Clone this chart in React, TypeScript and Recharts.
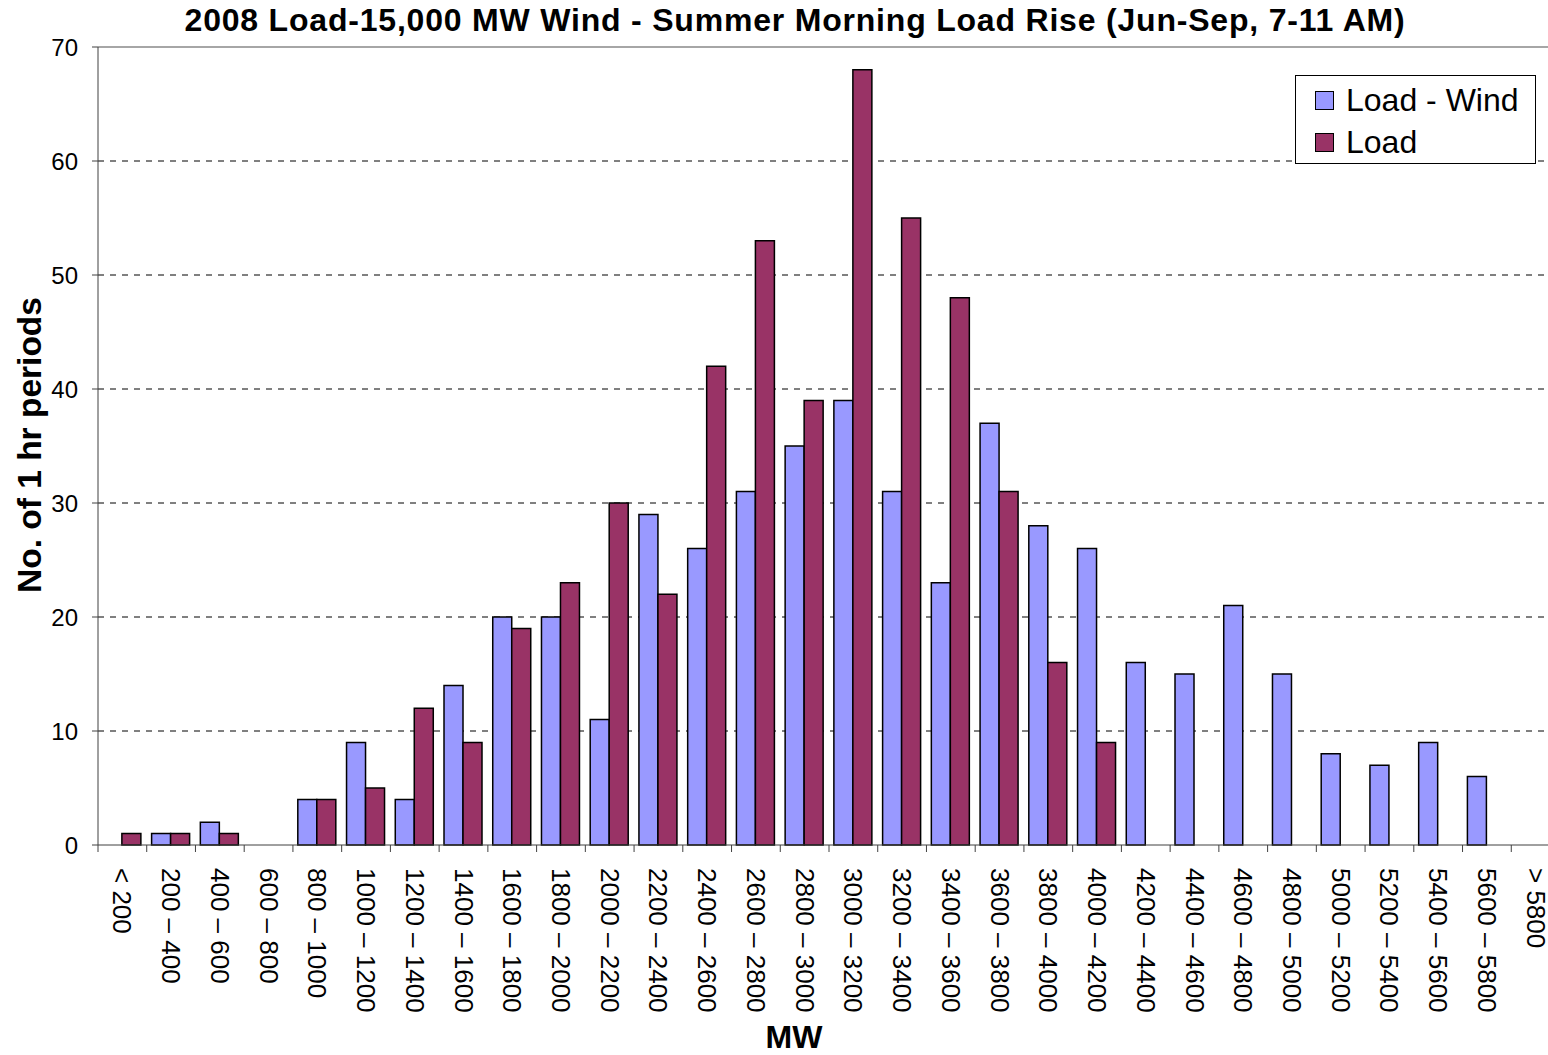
import { BarChart, Bar, XAxis, YAxis, CartesianGrid, ReferenceLine } from "recharts";

const categories = [
  "< 200", "200 – 400", "400 – 600", "600 – 800", "800 – 1000", "1000 – 1200",
  "1200 – 1400", "1400 – 1600", "1600 – 1800", "1800 – 2000", "2000 – 2200",
  "2200 – 2400", "2400 – 2600", "2600 – 2800", "2800 – 3000", "3000 – 3200",
  "3200 – 3400", "3400 – 3600", "3600 – 3800", "3800 – 4000", "4000 – 4200",
  "4200 – 4400", "4400 – 4600", "4600 – 4800", "4800 – 5000", "5000 – 5200",
  "5200 – 5400", "5400 – 5600", "5600 – 5800", "> 5800",
];
const loadMinusWind = [
  0, 1, 2, 0, 4, 9, 4, 14, 20, 20, 11, 29, 26, 31, 35, 39, 31, 23, 37, 28, 26,
  16, 15, 21, 15, 8, 7, 9, 6, 0,
];
const load = [
  1, 1, 1, 0, 4, 5, 12, 9, 19, 23, 30, 22, 42, 53, 39, 68, 55, 48, 31, 16, 9,
  0, 0, 0, 0, 0, 0, 0, 0, 0,
];
const yTicks = [0, 10, 20, 30, 40, 50, 60, 70];

const data = categories.map((c, i) => ({ range: c, lw: loadMinusWind[i], load: load[i] }));

const FONT = '"Liberation Sans", Arial, sans-serif';
const CHART_W = 1560;
const CHART_H = 1055;
const PLOT_LEFT = 98;
const BAND = (CHART_W - PLOT_LEFT) / categories.length;

// eslint-disable-next-line @typescript-eslint/no-explicit-any
function RangeTick(props: any) {
  const { x, y, payload } = props;
  const lx = x - BAND / 2;
  return (
    <g>
      <line x1={lx} y1={y} x2={lx} y2={y + 7} stroke="#404040" strokeWidth={1} />
      <text
        x={x}
        y={y + 23}
        transform={`rotate(90, ${x}, ${y + 23})`}
        textAnchor="start"
        dominantBaseline="central"
        fontSize={26}
        fontFamily={FONT}
        fill="#000"
      >
        {payload.value}
      </text>
    </g>
  );
}

function LegendBox() {
  const items = [
    { name: "Load - Wind", color: "#9999FF" },
    { name: "Load", color: "#993366" },
  ];
  return (
    <div
      style={{
        position: "absolute",
        left: 1295,
        top: 75,
        width: 241,
        height: 89,
        border: "1px solid #000",
        background: "#fff",
        boxSizing: "border-box",
        fontFamily: FONT,
        fontSize: 32,
        paddingTop: 3,
      }}
    >
      {items.map((it) => (
        <div key={it.name} style={{ display: "flex", alignItems: "center", height: 42, paddingLeft: 19 }}>
          <span
            style={{
              display: "inline-block",
              width: 17,
              height: 17,
              background: it.color,
              border: "1.5px solid #000",
              marginRight: 12,
            }}
          />
          <span>{it.name}</span>
        </div>
      ))}
    </div>
  );
}

export default function App() {
  return (
    <div
      style={{
        position: "fixed",
        left: 0,
        top: 0,
        width: 1548,
        height: 1055,
        overflow: "hidden",
        background: "#fff",
        fontFamily: FONT,
      }}
    >
      <BarChart
        width={CHART_W}
        height={CHART_H}
        data={data}
        margin={{ top: 47, right: 0, left: 0, bottom: 0 }}
        barCategoryGap="10%"
        barGap={0}
      >
        <CartesianGrid
          vertical={false}
          horizontalValues={[10, 20, 30, 40, 50, 60]}
          stroke="#000"
          strokeDasharray="6 6"
        />
        <ReferenceLine y={70} stroke="#888" strokeWidth={1.5} />
        <XAxis
          dataKey="range"
          interval={0}
          height={210}
          tickLine={false}
          tickSize={0}
          tickMargin={0}
          tick={<RangeTick />}
          axisLine={{ stroke: "#404040" }}
        />
        <YAxis
          width={PLOT_LEFT}
          domain={[0, 70]}
          ticks={yTicks}
          interval={0}
          tickSize={6}
          tickMargin={14}
          tick={{ fontSize: 24, fill: "#000", fontFamily: FONT }}
          tickLine={{ stroke: "#404040" }}
          axisLine={{ stroke: "#404040" }}
        />
        <Bar dataKey="lw" name="Load - Wind" fill="#9999FF" stroke="#000" strokeWidth={1.5} isAnimationActive={false} />
        <Bar dataKey="load" name="Load" fill="#993366" stroke="#000" strokeWidth={1.5} isAnimationActive={false} />
      </BarChart>
      <div
        style={{
          position: "absolute",
          left: 795,
          top: 2,
          transform: "translateX(-50%)",
          whiteSpace: "nowrap",
          fontWeight: "bold",
          fontSize: 32,
          letterSpacing: 0.8,
        }}
      >
        2008 Load-15,000 MW Wind - Summer Morning Load Rise (Jun-Sep, 7-11 AM)
      </div>
      <div
        style={{
          position: "absolute",
          left: 30,
          top: 445,
          transform: "translate(-50%, -50%) rotate(-90deg)",
          whiteSpace: "nowrap",
          fontWeight: "bold",
          fontSize: 33.5,
        }}
      >
        No. of 1 hr periods
      </div>
      <div
        style={{
          position: "absolute",
          left: 794,
          top: 1019,
          transform: "translateX(-50%)",
          whiteSpace: "nowrap",
          fontWeight: "bold",
          fontSize: 32,
        }}
      >
        MW
      </div>
      <LegendBox />
    </div>
  );
}
